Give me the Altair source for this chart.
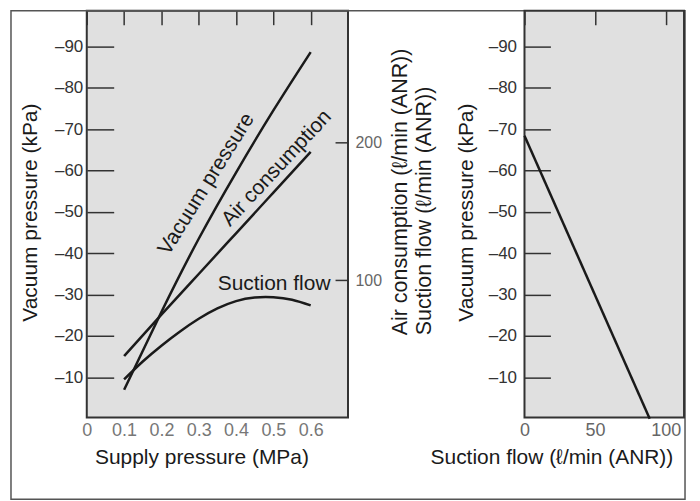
import altair as alt
import pandas as pd

# ---------------- data ----------------
# Left panel: supply pressure (MPa) vs vacuum pressure (kPa, shown as negative)
supply = [0.1, 0.2, 0.3, 0.4, 0.5, 0.6]
vacuum_kpa = [7.0, 25.8, 43.5, 59.5, 74.5, 88.6]
# Air consumption (l/min ANR) on the middle axis
air_consumption = [45.0, 75.0, 104.5, 134.0, 163.5, 193.0]
# Suction flow (l/min ANR) on the middle axis
suction_supply = [0.1, 0.15, 0.2, 0.25, 0.3, 0.35, 0.4, 0.45, 0.5, 0.55, 0.6]
suction_flow = [28.0, 41.0, 52.5, 62.8, 72.0, 79.5, 84.8, 87.4, 87.6, 85.8, 81.7]

# Right panel: suction flow vs vacuum pressure
right_flow = [0.0, 88.7]
right_vacuum = [68.4, 0.0]

# Curve labels
label_text = ["Vacuum pressure", "Air consumption", "Suction flow"]
label_x = [0.321, 0.509, 0.502]
label_y = [56.7, 60.5, 32.6]
label_angle = [302, 313, 0]

# Tick values
kpa_ticks = [10, 20, 30, 40, 50, 60, 70, 80, 90]
supply_ticks = [0, 0.1, 0.2, 0.3, 0.4, 0.5, 0.6]
flow_ticks = [100, 200]
right_flow_ticks = [0, 50, 100]

# ---------------- styling ----------------
SANS = "Liberation Sans, Arial, Helvetica, sans-serif"
NARROW = "Liberation Sans Narrow, Arial Narrow, Liberation Sans, sans-serif"
INK = "#1a1a1a"
TICK = "#333333"

df_vac = pd.DataFrame({"supply": supply, "kpa": vacuum_kpa})
df_flow = pd.concat([
    pd.DataFrame({"supply": supply, "flow": air_consumption, "series": "Air consumption"}),
    pd.DataFrame({"supply": suction_supply, "flow": suction_flow, "series": "Suction flow"}),
])
df_lab = pd.DataFrame({"supply": label_x, "kpa": label_y, "label": label_text, "angle": label_angle})
df_right = pd.DataFrame({"rflow": right_flow, "rkpa": right_vacuum})
df_one = pd.DataFrame({"a": [0]})

x_axis_left = alt.Axis(
    values=supply_ticks, labelExpr="datum.value == 0 ? '0' : format(datum.value, '.1f')",
    grid=True, gridDash=[14, 1000], gridColor=TICK, gridWidth=1.5, gridOpacity=1,
    ticks=False, domain=False, labelFlush=False, labelOverlap=False,
    labelFont=NARROW, labelFontSize=18, labelColor="#777777", labelPadding=4,
    title="Supply pressure (MPa)", titleFont=SANS, titleFontSize=21, titleFontWeight="normal",
    titleColor=INK, titleX=115, titleY=40, titleAlign="center", titleBaseline="middle",
)
y_axis_left = alt.Axis(
    values=kpa_ticks, labelExpr="'\u2013' + datum.value",
    grid=True, gridDash=[27, 1000], gridColor=TICK, gridWidth=1.5, gridOpacity=1,
    ticks=False, domain=False, labelFlush=False, labelOverlap=False,
    labelFont=NARROW, labelFontSize=17, labelColor="#333333", labelPadding=4,
    title="Vacuum pressure (kPa)", titleFont=SANS, titleFontSize=21, titleFontWeight="normal",
    titleColor=INK, titleAngle=270, titleX=-56, titleY=202, titleAlign="center", titleBaseline="middle",
)
y_axis_flow = alt.Axis(
    orient="right", values=flow_ticks,
    grid=True, gridDash=[13, 1000], gridColor=TICK, gridWidth=1.5, gridOpacity=1,
    ticks=False, domain=False, labelFlush=False, labelOverlap=False,
    labelFont=NARROW, labelFontSize=16, labelColor="#666666", labelPadding=7,
    title=["Air consumption (\u2113/min (ANR))", "Suction flow (\u2113/min (ANR))"],
    titleFont=SANS, titleFontSize=21.5, titleFontWeight="normal", titleColor=INK,
    titleAngle=270, titleX=53, titleY=325, titleAlign="left", titleBaseline="middle", titleLineHeight=24,
)
x_axis_right = alt.Axis(
    values=right_flow_ticks,
    grid=True, gridDash=[14, 1000], gridColor=TICK, gridWidth=1.5, gridOpacity=1,
    ticks=False, domain=False, labelFlush=False, labelOverlap=False,
    labelFont=NARROW, labelFontSize=18, labelColor="#666666", labelPadding=4,
    title="Suction flow (\u2113/min (ANR))", titleFont=SANS, titleFontSize=21, titleFontWeight="normal",
    titleColor=INK, titleX=27, titleY=40, titleAlign="center", titleBaseline="middle",
)
y_axis_right = alt.Axis(
    values=kpa_ticks, labelExpr="'\u2013' + datum.value",
    grid=True, gridDash=[26, 1000], gridColor=TICK, gridWidth=1.5, gridOpacity=1,
    ticks=False, domain=False, labelFlush=False, labelOverlap=False,
    labelFont=NARROW, labelFontSize=17, labelColor="#333333", labelPadding=8,
    title="Vacuum pressure (kPa)", titleFont=SANS, titleFontSize=21, titleFontWeight="normal",
    titleColor=INK, titleAngle=270, titleX=-58, titleY=202, titleAlign="center", titleBaseline="middle",
)

x_left = alt.X("supply:Q", scale=alt.Scale(domain=[0, 0.7], nice=False, zero=False), axis=x_axis_left)
y_kpa = alt.Y("kpa:Q", scale=alt.Scale(domain=[0.3, 98.6], nice=False, zero=False), axis=y_axis_left)
y_flow = alt.Y("flow:Q", scale=alt.Scale(domain=[0.4, 295.4], nice=False, zero=False), axis=y_axis_flow)

frame = alt.Chart(df_one).mark_rect(filled=False, stroke="#555555", strokeWidth=1.5).encode(
    x=alt.value(-76), x2=alt.value(600), y=alt.value(0), y2=alt.value(490)
)
vac_line = alt.Chart(df_vac).mark_line(color=INK, strokeWidth=2.5, interpolate="natural").encode(
    x=x_left, y=y_kpa
)
labels = alt.Chart(df_lab).mark_text(
    font=SANS, fontSize=21, color=INK, align="center", baseline="middle"
).encode(x=x_left, y=y_kpa, text="label:N", angle=alt.Angle("angle:Q", scale=None))

inner = alt.layer(frame, vac_line, labels)

flow_lines = alt.Chart(df_flow).mark_line(color=INK, strokeWidth=2.5, interpolate="natural").encode(
    x=x_left, y=y_flow, detail="series:N"
)

left = alt.layer(inner, flow_lines).resolve_scale(y="independent").properties(width=262, height=408)

right = alt.Chart(df_right).mark_line(color=INK, strokeWidth=2.5).encode(
    x=alt.X("rflow:Q", scale=alt.Scale(domain=[0, 113], nice=False, zero=False), axis=x_axis_right),
    y=alt.Y("rkpa:Q", scale=alt.Scale(domain=[0.3, 98.6], nice=False, zero=False), axis=y_axis_right),
).properties(width=160, height=408)

chart = alt.hconcat(left, right, spacing=177, bounds="flush").configure_view(
    fill="#e0e0e0", stroke="#333333", strokeWidth=2
).properties(padding={"left": 1, "top": 0, "right": 5, "bottom": 2}, background="white")

chart.save("out.html", embed_options={"renderer": "svg", "actions": False})
